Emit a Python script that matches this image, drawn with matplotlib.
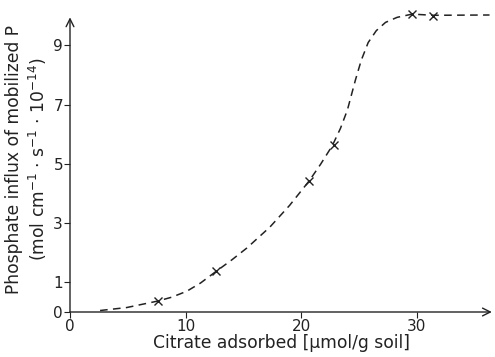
import matplotlib
matplotlib.use("Agg")
import matplotlib.pyplot as plt

# measured points (crosses)
citrate = [7.6, 12.6, 20.7, 22.8, 29.6, 31.4]
influx = [0.37, 1.38, 4.43, 5.64, 10.07, 10.0]

# dashed fitted curve
curve_x = [2.6, 4.9, 7.6, 8.8, 10.1, 11.3, 12.6, 14.0, 15.3, 17.3, 19.0,
           20.7, 21.7, 22.7, 23.4, 24.0, 24.7, 25.2, 25.8, 26.5, 27.3,
           28.3, 29.6, 31.4, 36.3]
curve_y = [0.05, 0.15, 0.37, 0.5, 0.7, 0.98, 1.36, 1.76, 2.16, 2.87, 3.6,
           4.43, 5.0, 5.62, 6.2, 6.82, 7.84, 8.5, 9.1, 9.5, 9.78,
           9.95, 10.06, 10.02, 10.03]

xticks = [0, 10, 20, 30]
yticks = [0, 1, 3, 5, 7, 9]

plt.rcParams["font.family"] = "DejaVu Sans"
plt.rcParams["font.size"] = 11
ink = "#222222"

fig = plt.figure(figsize=(4.95, 3.57), dpi=100)
ax = fig.add_axes([70 / 495, 45 / 357, 423 / 495, 305 / 357])
ax.set_xlim(0, 36.6)
ax.set_ylim(0, 10.3)

for s in ax.spines.values():
    s.set_visible(False)

# axes drawn as arrows
arrow = dict(arrowstyle="->", color=ink, lw=1.0, mutation_scale=14, shrinkA=0, shrinkB=0)
ax.annotate("", xy=(36.5, 0), xytext=(0, 0), arrowprops=arrow, annotation_clip=False)
ax.annotate("", xy=(0, 9.95), xytext=(0, 0), arrowprops=arrow, annotation_clip=False)

ax.plot(curve_x, curve_y, ls=(0, (5, 3.5)), color=ink, lw=1.1)
ax.plot(citrate, influx, ls="none", marker="x", ms=6, mew=1.0, color=ink)

ax.set_xticks(xticks)
ax.set_yticks(yticks)
ax.tick_params(color=ink, labelcolor=ink, length=4, width=0.8, pad=1)

ax.set_xlabel("Citrate adsorbed [µmol/g soil]", color=ink, labelpad=0,
              fontsize=12.3)
ax.set_ylabel("Phosphate influx of mobilized P\n"
              r"(mol cm$^{-1}$ $\cdot$ s$^{-1}$ $\cdot$ 10$^{-14}$)",
              color=ink, labelpad=3, linespacing=1.25, fontsize=12.3)

fig.savefig("out.png", dpi=100)
